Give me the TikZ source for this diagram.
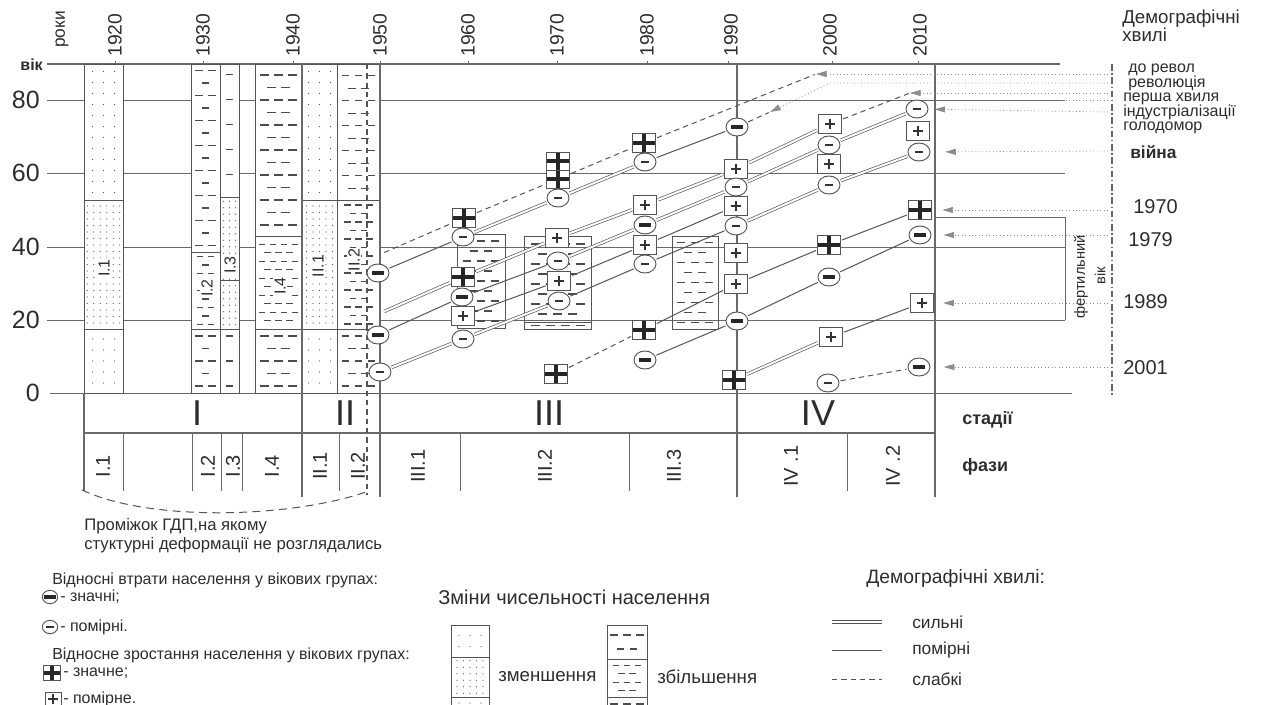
\documentclass[tikz,border=0pt]{standalone}
\usepackage{fontspec}
\setmainfont{Liberation Sans}
\usetikzlibrary{arrows.meta,shapes.geometric}
\pgfdeclarelayer{bg}
\pgfdeclarelayer{waves}
\pgfsetlayers{bg,waves,main}

\definecolor{inkc}{RGB}{45,45,45}
\definecolor{linec}{RGB}{85,85,85}
\definecolor{gridc}{RGB}{105,105,105}

% dots on a grid: x1,y1,x2,y2,dx,dy
\newcommand\dotgrid[6]{%
  \pgfmathtruncatemacro\dgnx{floor((#3-#1)/#5)}%
  \pgfmathtruncatemacro\dgny{floor((#4-#2)/#6)}%
  \pgfmathsetmacro\dgox{#1+((#3-#1)-(\dgnx-1)*#5)/2}%
  \pgfmathsetmacro\dgoy{#2+((#4-#2)-(\dgny-1)*#6)/2}%
  \foreach \i in {1,...,\dgnx}{\foreach \j in {1,...,\dgny}{%
    \fill[dotc] ({\dgox+(\i-1)*#5},{\dgoy+(\j-1)*#6}) circle (0.5pt);}}%
}
% staggered dashes: x1,y1,x2,y2,dx,dy
\newcommand\dashgrid[6]{%
  \pgfmathtruncatemacro\dgny{floor((#4-#2)/#6)}%
  \pgfmathsetmacro\dgoy{#2+((#4-#2)-(\dgny-1)*#6)/2}%
  \pgfmathtruncatemacro\dgnx{floor((#3-#1)/#5)}%
  \pgfmathsetmacro\dgox{#1+((#3-#1)-(\dgnx-1)*#5)/2}%
  \foreach \j in {1,...,\dgny}{%
    \pgfmathtruncatemacro\dgodd{mod(\j,2)}%
    \ifnum\dgodd=1
      \foreach \i in {1,...,\dgnx}{\draw[dashc] ({\dgox+(\i-1)*#5-0.3*#5},{\dgoy+(\j-1)*#6}) -- ++({0.6*#5},0);}%
    \else
      \ifnum\dgnx>1
        \foreach \i in {2,...,\dgnx}{\draw[dashc] ({\dgox+(\i-1.5)*#5-0.3*#5},{\dgoy+(\j-1)*#6}) -- ++({0.6*#5},0);}%
      \fi
    \fi}%
}

\tikzset{
  gridln/.style={draw=gridc, line width=0.75pt},
  colbox/.style={draw=linec, line width=0.7pt},
  dotc/.style={fill=black!65},
  dashc/.style={draw=black!70, line width=1pt},
  markbase/.style={fill=white, draw=linec, line width=0.7pt, inner sep=0pt},
  mminus/.style={markbase, ellipse, minimum width=16.5pt, minimum height=13.5pt,
    path picture={\draw[black!80, line width=0.9pt] ([xshift=-2.8pt]path picture bounding box.center) -- ([xshift=2.8pt]path picture bounding box.center);}},
  sminus/.style={markbase, ellipse, minimum width=16.5pt, minimum height=13.5pt,
    path picture={\draw[black!85, line width=2.4pt] ([xshift=-4.5pt]path picture bounding box.center) -- ([xshift=4.5pt]path picture bounding box.center);}},
  mplus/.style={markbase, rectangle, minimum width=17pt, minimum height=14pt,
    path picture={\draw[black!80, line width=0.9pt] ([xshift=-4pt]path picture bounding box.center) -- ([xshift=4pt]path picture bounding box.center) ([yshift=-4pt]path picture bounding box.center) -- ([yshift=4pt]path picture bounding box.center);}},
  splus/.style={markbase, rectangle, minimum width=17pt, minimum height=14pt,
    path picture={\draw[black!85, line width=2.4pt] (path picture bounding box.north) -- (path picture bounding box.south) (path picture bounding box.west) -- (path picture bounding box.east);}},
  strong/.style={draw=linec, line width=0.5pt, double=white, double distance=1.5pt, shorten <=1pt, shorten >=1pt},
  moderate/.style={draw=linec, line width=0.75pt, shorten <=1pt, shorten >=1pt},
  weak/.style={draw=linec, line width=0.75pt, dash pattern=on 4pt off 3pt, shorten <=1pt, shorten >=1pt},
  annot/.style={draw=black!45, line width=0.6pt, dotted, -{Triangle[length=8pt,width=4.5pt]}},
  lbl/.style={text=inkc, inner sep=0pt},
  yearlbl/.style={lbl, rotate=90, anchor=west, font=\fontsize{14.5}{15}\selectfont},
  collbl/.style={lbl, rotate=90, fill=white, inner sep=1pt, font=\fontsize{12}{12}\selectfont},
  phlbl/.style={lbl, rotate=90, font=\fontsize{15}{15}\selectfont},
  stlbl/.style={lbl, font=\fontsize{27}{27}\selectfont},
  rlbl/.style={lbl, anchor=west, font=\fontsize{15}{15}\selectfont},
  wavename/.style={lbl, anchor=west, text height=1.2ex, text depth=0.2ex, font=\fontsize{12}{12}\selectfont},
  txt/.style={lbl, anchor=west, font=\fontsize{12}{14}\selectfont},
}

\begin{document}
\begin{tikzpicture}[x=0.75pt,y=0.75pt,yscale=-1,xscale=1]
\useasboundingbox (0,0) rectangle (1272,704);

\begin{pgfonlayer}{bg}
%Straight Lines: age grid
\draw[gridln, line width=0.9pt] (47,64) -- (1060,64);
\foreach \yp in {100,173,247,320}{\draw[gridln] (47,\yp) -- (1065,\yp);}
\draw[gridln] (50,393) -- (1072,393);
\foreach \xp in {115,203,293,380,468,557,647,728,832,918}{\draw[gridln] (\xp,64) -- (\xp,61);}

%Shape: columns of stages I and II
\fill[white] (84,64) rectangle (123,393) (191,64) rectangle (239,393) (255,64) rectangle (380,393);
% I.1
\dotgrid{84}{64}{123}{200}{11}{11}
\dotgrid{84}{200}{123}{329}{6.5}{6.5}
\dotgrid{84}{329}{123}{393}{11}{11}
% I.2
\dashgrid{191}{64}{220}{252}{13}{12.5}
\dashgrid{191}{252}{220}{329}{11}{8.5}
\dashgrid{191}{329}{220}{393}{13}{12.5}
% I.3
\dashgrid{220}{64}{239}{197}{13}{12.5}
\dotgrid{220}{197}{239}{329}{6}{6.5}
\dashgrid{220}{329}{239}{393}{13}{12.5}
% I.4
\dashgrid{255}{64}{302}{236}{14}{12.5}
\dashgrid{255}{236}{302}{329}{11}{8.5}
\dashgrid{255}{329}{302}{393}{14}{12.5}
% II.1
\dotgrid{302}{64}{337}{200}{11}{11}
\dotgrid{302}{200}{337}{329}{6.5}{6.5}
\dotgrid{302}{329}{337}{393}{11}{11}
% II.2
\dashgrid{337}{64}{380}{200}{13}{12.5}
\dashgrid{337}{200}{380}{329}{11}{8.5}
\dashgrid{337}{329}{380}{393}{13}{12.5}

\draw[colbox] (84,64) rectangle (123,393) (84,200) -- (123,200) (84,329) -- (123,329);
\draw[colbox] (191,64) rectangle (220,393) (191,252) -- (220,252) (191,329) -- (220,329);
\draw[colbox] (220,64) rectangle (239,393) (220,197) -- (239,197) (220,280) -- (239,280) (220,329) -- (239,329);
\draw[colbox] (255,64) rectangle (302,393) (255,236) -- (302,236) (255,329) -- (302,329);
\draw[colbox] (302,64) rectangle (337,393) (302,200) -- (337,200) (302,329) -- (337,329);
\draw[colbox] (337,64) rectangle (380,393) (337,200) -- (380,200) (337,329) -- (380,329);

%Shape: boxes of stage III
\dashgrid{457}{234}{505}{328}{14}{10}
\dashgrid{524}{236}{591}{322}{15}{10}
\dashgrid{524}{322}{591}{329}{15}{7}
\dashgrid{672}{236}{718}{329}{14}{10}
\draw[colbox] (457,234) rectangle (505,328);
\draw[colbox] (524,236) rectangle (591,329) (524,322) -- (591,322);
\draw[colbox] (672,236) rectangle (718,329);

%Straight Lines: stages and phases
\draw[gridln, line width=0.9pt] (84,433) -- (935,433);
\foreach \xp in {302,380,737,935}{\draw[gridln, line width=0.9pt] (\xp,64) -- (\xp,497);}
\draw[gridln, line width=0.9pt] (84,393) -- (84,491);
\foreach \xp in {123,192,221,242,339,460,629,847}{\draw[gridln] (\xp,433) -- (\xp,491);}
\draw[linec, line width=0.8pt, dash pattern=on 4pt off 3pt] (367,64) -- (367,495);

%Shape: fertile age frame
\draw[gridln] (935,217) -- (1065,217) -- (1065,320);
\draw[black!60, line width=0.8pt, dash pattern=on 5pt off 2pt on 1pt off 2pt] (1112,64) -- (1112,395);
\end{pgfonlayer}

% Text Node: axes
\node[lbl, anchor=west, rotate=90, font=\fontsize{13}{13}\selectfont] (roky) at (62,48) {роки};
\foreach \yr/\xp in {1920/115,1930/203,1940/293,1950/380,1960/468,1970/557,1980/647,1990/731,2000/830,2010/920}
  {\node[yearlbl] (yr\yr) at (\xp,57) {\yr};}
\node[lbl, anchor=east, font=\bfseries\fontsize{12}{12}\selectfont] (vik) at (43,65) {вік};
\foreach \ag/\yp in {80/100,60/173,40/247,20/320,0/393}
  {\node[lbl, anchor=east, font=\fontsize{18.75}{19}\selectfont] (age\ag) at (40,\yp) {\ag};}

% Text Node: column labels
\node[collbl] (c11) at (104,268) {I.1};
\node[collbl] (c12) at (207,288) {I.2};
\node[collbl] (c13) at (230,265) {I.3};
\node[collbl] (c14) at (280,286) {I.4};
\node[collbl] (c21) at (318,266) {II.1};
\node[collbl] (c22) at (354,260) {II.2};

% Text Node: stages and phases
\node[stlbl] (st1) at (197,413) {I};
\node[stlbl] (st2) at (345,413) {II};
\node[stlbl] (st3) at (549,413) {III};
\node[stlbl] (st4) at (818,413) {IV};
\node[lbl, anchor=west, font=\bfseries\fontsize{13.5}{14}\selectfont] (stadii) at (962,420) {стадії};
\node[lbl, anchor=west, font=\bfseries\fontsize{13.5}{14}\selectfont] (fazy) at (962,467) {фази};
\foreach \ph/\xp in {I.1/103,I.2/208,I.3/233,I.4/272,II.1/320,II.2/358,III.1/418,III.2/545,III.3/674,IV .1/791,IV .2/893}
  {\node[phlbl] (ph\xp) at (\xp,466) {\ph};}

%Shape: markers 1950
\node[sminus] (a50a) at (378,273) {};
\node[sminus] (a50b) at (378,335) {};
\node[mminus] (a50c) at (380,372) {};
% 1960
\node[splus] (a60a) at (464,218) {};
\node[mminus] (a60b) at (463,237) {};
\node[splus] (a60c) at (463,277) {};
\node[sminus] (a60d) at (462,297) {};
\node[mplus] (a60e) at (463,316) {};
\node[mminus] (a60f) at (463,339) {};
% 1970
\node[splus, minimum height=13.5pt] (a70a) at (558,161) {};
\node[splus, minimum height=13.5pt] (a70b) at (558,179) {};
\node[mminus] (a70c) at (558,198) {};
\node[mplus] (a70d) at (557,238) {};
\node[mminus] (a70e) at (558,261) {};
\node[mplus] (a70f) at (559,281) {};
\node[mminus] (a70g) at (559,301) {};
\node[splus] (a70h) at (556,374) {};
% 1980
\node[splus] (a80a) at (644,143) {};
\node[mminus] (a80b) at (645,162) {};
\node[mplus] (a80c) at (645,205) {};
\node[sminus] (a80d) at (645,225) {};
\node[mplus] (a80e) at (645,245) {};
\node[mminus] (a80f) at (645,264) {};
\node[splus] (a80g) at (644,330) {};
\node[sminus] (a80h) at (645,360) {};
% 1990
\node[sminus] (a90a) at (737,127) {};
\node[mplus] (a90b) at (736,169) {};
\node[mminus] (a90c) at (736,187) {};
\node[mplus] (a90d) at (736,206) {};
\node[mminus] (a90e) at (736,226) {};
\node[mplus] (a90f) at (736,253) {};
\node[mplus] (a90g) at (736,284) {};
\node[sminus] (a90h) at (737,321) {};
\node[splus] (a90i) at (734,380) {};
% 2000
\node[mplus] (b00a) at (830,124) {};
\node[mminus] (b00b) at (829,145) {};
\node[mplus] (b00c) at (829,164) {};
\node[mminus] (b00d) at (829,185) {};
\node[splus] (b00e) at (829,245) {};
\node[sminus] (b00f) at (829,277) {};
\node[mplus] (b00g) at (831,337) {};
\node[mminus] (b00h) at (828,383) {};
% 2010
\node[mminus] (b10a) at (917,109) {};
\node[mplus] (b10b) at (918,131) {};
\node[mminus] (b10c) at (919,152) {};
\node[splus] (b10d) at (920,210) {};
\node[sminus] (b10e) at (920,235) {};
\node[mplus] (b10f) at (922,303) {};
\node[sminus] (b10g) at (919,367) {};

% free ends of the waves
\coordinate (c1s) at (383,253);
\coordinate (c1e) at (816,74);
\coordinate (c2e) at (770,112);
\coordinate (c3s) at (383,312);
\coordinate (c3e) at (910,93);

\begin{pgfonlayer}{waves}
%Straight Lines: demographic waves
\draw[weak] (c1s) -- (a60a);
\draw[weak] (a60a) -- (a70b);
\draw[weak] (a70b) -- (a80a);
\draw[weak] (a80a) -- (c1e);
\draw[moderate] (a50a) -- (a60b);
\draw[strong] (a60b) -- (a70c);
\draw[strong] (a70c) -- (a80b);
\draw[moderate] (a80b) -- (a90a);
\draw[weak] (a90a) -- (c2e);
\draw[strong] (c3s) -- (a60c);
\draw[strong] (a60c) -- (a70d);
\draw[strong] (a70d) -- (a80c);
\draw[strong] (a80c) -- (a90b);
\draw[strong] (a90b) -- (b00a);
\draw[weak] (b00a) -- (c3e);
\draw[moderate] (a50b) -- (a60d);
\draw[moderate] (a60d) -- (a70e);
\draw[strong] (a70e) -- (a80d);
\draw[strong] (a80d) -- (a90c);
\draw[strong] (a90c) -- (b00b);
\draw[strong] (b00b) -- (b10a);
\draw[moderate] (a60e) -- (a70f);
\draw[moderate] (a70f) -- (a80e);
\draw[moderate] (a80e) -- (a90d);
\draw[strong] (a50c) -- (a60f);
\draw[strong] (a60f) -- (a70g);
\draw[moderate] (a70g) -- (a80f);
\draw[moderate] (a80f) -- (a90e);
\draw[strong] (a90e) -- (b00d);
\draw[strong] (b00d) -- (b10c);
\draw[weak] (a70h) -- (a80g);
\draw[moderate] (a80g) -- (a90g);
\draw[moderate] (a90g) -- (b00e);
\draw[moderate] (b00e) -- (b10d);
\draw[moderate] (a80h) -- (a90h);
\draw[moderate] (a90h) -- (b00f);
\draw[moderate] (b00f) -- (b10e);
\draw[strong] (a90i) -- (b00g);
\draw[moderate] (b00g) -- (b10f);
\draw[weak] (b00h) -- (b10g);
\end{pgfonlayer}

%Straight Lines: pointers from the wave names
\coordinate (r1) at (1108,74);
\coordinate (r2) at (1108,83);
\coordinate (k2) at (830,83);
\coordinate (r3) at (1108,93);
\coordinate (r4) at (1108,100);
\coordinate (k4) at (1062,100);
\coordinate (r5) at (1108,112);
\coordinate (r6) at (1108,151);
\coordinate (r7) at (1108,210);
\coordinate (r8) at (1108,235);
\coordinate (r9) at (1108,303);
\coordinate (r10) at (1108,367);
\draw[annot] (r1) -- (c1e);
\draw[annot] (r2) -- (k2) -- (c2e);
\draw[annot] (r3) -- (c3e);
\draw[annot, -] (r4) -- (k4);
\draw[annot, shorten >=4.5pt] (r5) -- (b10a);
\draw[annot, shorten >=11pt] (r6) -- (b10c);
\draw[annot, shorten >=8pt] (r7) -- (b10d);
\draw[annot, shorten >=9pt] (r8) -- (b10e);
\draw[annot, shorten >=7pt] (r9) -- (b10f);
\draw[annot, shorten >=10pt] (r10) -- (b10g);

% Text Node: wave names
\node[lbl, anchor=north west, align=left, font=\fontsize{14}{13.5}\selectfont] (dhead) at (1122,10) {Демографічні\\хвилі};
\node[wavename] (w1) at (1128,69) {до револ};
\node[wavename] (w2) at (1128,84) {революція};
\node[wavename] (w3) at (1123,98) {перша хвиля};
\node[wavename] (w4) at (1123,113) {індустріалізації};
\node[wavename] (w5) at (1123,127) {голодомор};
\node[rlbl, font=\bfseries\fontsize{13}{13}\selectfont] (w6) at (1130,152) {війна};
\node[rlbl] (w7) at (1133,207) {1970};
\node[rlbl] (w8) at (1128,240) {1979};
\node[rlbl] (w9) at (1123,302) {1989};
\node[rlbl] (w10) at (1123,368) {2001};
\node[lbl, rotate=90, font=\fontsize{11}{11}\selectfont] (fert) at (1081,277) {фертильний};
\node[lbl, rotate=90, font=\fontsize{11}{11}\selectfont] (fvik) at (1100,276) {вік};

%Shape: bracket of the skipped interval
\coordinate (gap1) at (82,490);
\coordinate (gap2) at (366,492);
\draw[linec, line width=0.75pt, dash pattern=on 6pt off 4pt] (gap1) .. controls (150,522) and (290,518) .. (gap2);
\node[lbl, anchor=north west, align=left, font=\fontsize{12.5}{14.5}\selectfont] (gapnote) at (84,518) {Проміжок ГДП,на якому\\стуктурні деформації не розглядались};

% Text Node: legend of markers
\node[txt] (lg1) at (52,580) {Відносні втрати населення у вікових групах:};
\node[sminus, minimum width=11.5pt, minimum height=10pt] (lgsm) at (50,597) {};
\node[txt] (lg1a) at (60,597) {- значні;};
\node[mminus, minimum width=11.5pt, minimum height=10pt] (lgmm) at (50,627) {};
\node[txt] (lg1b) at (60,627) {- помірні.};
\node[txt] (lg2) at (52,655) {Відносне зростання населення у вікових групах:};
\node[splus, minimum width=13pt, minimum height=11pt] (lgsp) at (52,673) {};
\node[txt] (lg2a) at (63,673) {- значне;};
\node[mplus, minimum width=12pt, minimum height=10.5pt] (lgmp) at (53,699) {};
\node[txt] (lg2b) at (63,699) {- помірне.};

% legend of population change
\node[lbl, anchor=west, font=\fontsize{15}{15}\selectfont] (chg) at (438,597) {Зміни чисельності населення};
\fill[white] (451,625) rectangle (489,710) (607,625) rectangle (647,710);
\dotgrid{451}{625}{489}{657}{11}{11}
\dotgrid{451}{657}{489}{697}{6.5}{6.5}
\dotgrid{451}{697}{489}{720}{11}{11}
\dashgrid{607}{625}{647}{659}{13}{14}
\dashgrid{607}{659}{647}{697}{11}{8.5}
\dashgrid{607}{697}{647}{725}{13}{14}
\draw[colbox] (451,625) rectangle (489,710) (451,657) -- (489,657) (451,697) -- (489,697);
\draw[colbox] (607,625) rectangle (647,710) (607,659) -- (647,659) (607,697) -- (647,697);
\node[lbl, anchor=west, font=\fontsize{14}{14}\selectfont] (dec) at (498,677) {зменшення};
\node[lbl, anchor=west, font=\fontsize{14}{14}\selectfont] (inc) at (657,677) {збільшення};

% legend of waves
\node[lbl, anchor=west, font=\fontsize{14.5}{15}\selectfont] (whead) at (866,578) {Демографічні хвилі:};
\coordinate (ls1) at (832,622); \coordinate (le1) at (882,622);
\coordinate (ls2) at (832,650); \coordinate (le2) at (882,650);
\coordinate (ls3) at (832,679); \coordinate (le3) at (882,679);
\draw[strong, shorten <=0pt, shorten >=0pt] (ls1) -- (le1);
\draw[moderate, shorten <=0pt, shorten >=0pt] (ls2) -- (le2);
\draw[weak, shorten <=0pt, shorten >=0pt] (ls3) -- (le3);
\node[lbl, anchor=west, font=\fontsize{13}{13}\selectfont] (ws) at (912,622) {сильні};
\node[lbl, anchor=west, font=\fontsize{13}{13}\selectfont] (wm) at (912,650) {помірні};
\node[lbl, anchor=west, font=\fontsize{13}{13}\selectfont] (ww) at (912,679) {слабкі};
\end{tikzpicture}
\end{document}
